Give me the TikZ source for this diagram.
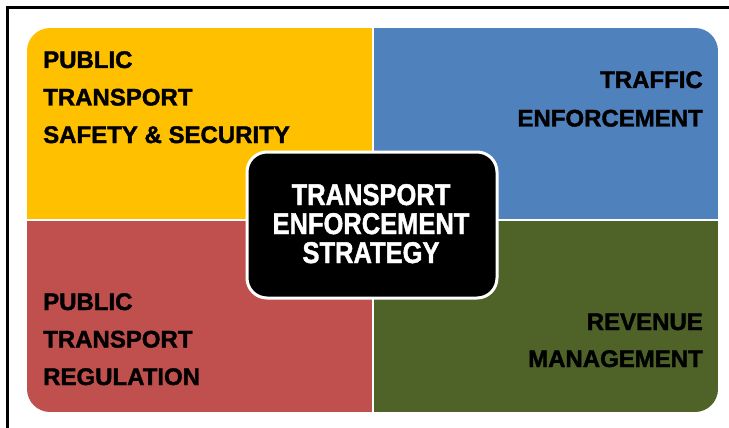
\documentclass[tikz,border=0pt]{standalone}
\usepackage{fontspec}
\setmainfont{Liberation Sans}
\newfontfamily\heavyfont{Liberation Sans}[BoldFeatures={FakeBold=1.6}]
\definecolor{qyellow}{HTML}{FFC000}
\definecolor{qblue}{HTML}{4F81BD}
\definecolor{qred}{HTML}{C0504D}
\definecolor{qgreen}{HTML}{4F6228}
\begin{document}
\begin{tikzpicture}[x=1pt,y=-1pt,
  lbl/.style={inner sep=0pt, font=\heavyfont\fontsize{24}{28}\selectfont\bfseries, text=black},
  clbl/.style={inner sep=0pt, anchor=base, font=\heavyfont\fontsize{30}{30}\selectfont\bfseries, text=white}]
\useasboundingbox (0,0) rectangle (729,428);
% outer frame
\draw[line width=3pt] (7.5,432) -- (7.5,7.5) -- (733,7.5);
% quadrants
\begin{scope}
\clip[rounded corners=23pt] (27,28) rectangle (718,412);
\fill[qyellow] (27,28) rectangle (373,220);
\fill[qblue] (373,28) rectangle (718,220);
\fill[qred] (27,220) rectangle (373,412);
\fill[qgreen] (373,220) rectangle (718,412);
\end{scope}
\coordinate (vt) at (373,26);
\coordinate (vb) at (373,414);
\coordinate (hl) at (25,220);
\coordinate (hr) at (720,220);
\draw[white, line width=2.8pt] (vt) -- (vb);
\draw[white, line width=2.8pt] (hl) -- (hr);
% corner texts
\node[lbl, anchor=base west] (y1) at (43,68) {PUBLIC};
\node[lbl, anchor=base west] (y2) at (43,105.5) {TRANSPORT};
\node[lbl, anchor=base west] (y3) at (43,143) {SAFETY \& SECURITY};
\node[lbl, anchor=base east] (b1) at (703,88) {TRAFFIC};
\node[lbl, anchor=base east] (b2) at (703,126.5) {ENFORCEMENT};
\node[lbl, anchor=base west] (r1) at (43,310) {PUBLIC};
\node[lbl, anchor=base west] (r2) at (43,347.5) {TRANSPORT};
\node[lbl, anchor=base west] (r3) at (43,385) {REGULATION};
\node[lbl, anchor=base east] (g1) at (703,330) {REVENUE};
\node[lbl, anchor=base east] (g2) at (703,367) {MANAGEMENT};
% center box
\draw[fill=black, draw=white, line width=3pt, rounded corners=20pt] (247,152) rectangle (497,298);
\node[clbl] (c1) at (371,205) {\scalebox{0.85}[1]{TRANSPORT}};
\node[clbl] (c2) at (371,234) {\scalebox{0.85}[1]{ENFORCEMENT}};
\node[clbl] (c3) at (371,263) {\scalebox{0.85}[1]{STRATEGY}};
\end{tikzpicture}
\end{document}
